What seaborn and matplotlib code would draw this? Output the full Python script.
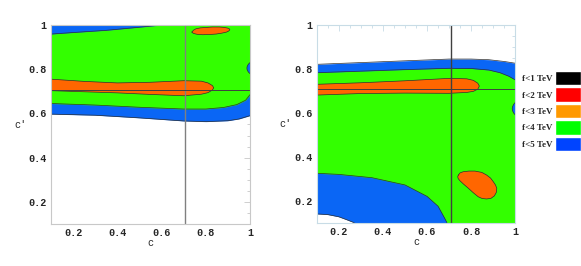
import numpy as np
import pandas as pd
import seaborn as sns
import matplotlib.pyplot as plt

# colours of the regions
WHITE = "#ffffff"
BLUE = "#0a66f5"
GREEN = "#33ff00"
ORANGE = "#ff6600"
EDGE = "#303030"

# ---- left panel boundaries (c, c') ----
L_blue_low_c = [0.1, 0.3, 0.5, 0.7, 0.8, 0.9, 0.95, 1.0]
L_blue_low_v = [0.597, 0.592, 0.580, 0.566, 0.563, 0.567, 0.575, 0.59]
L_green_low_c = [0.1, 0.3, 0.5, 0.7, 0.8, 0.88, 0.94, 0.98, 1.0]
L_green_low_v = [0.645, 0.638, 0.628, 0.620, 0.620, 0.627, 0.64, 0.66, 0.685]
L_blue_top_c = [0.1, 0.2, 0.35, 0.5, 0.6]
L_blue_top_v = [0.959, 0.966, 0.976, 0.99, 1.0]
L_band_c = [0.1, 0.25, 0.4, 0.55, 0.7, 0.78, 0.81, 0.83, 0.836,
            0.83, 0.81, 0.78, 0.7, 0.55, 0.4, 0.25, 0.1]
L_band_v = [0.755, 0.745, 0.738, 0.741, 0.748, 0.746, 0.738, 0.726, 0.716,
            0.706, 0.694, 0.687, 0.680, 0.686, 0.693, 0.698, 0.703]
L_isle_c = [0.737, 0.745, 0.756, 0.776, 0.801, 0.831, 0.861, 0.884, 0.899, 0.906, 0.909,
            0.904, 0.894, 0.872, 0.846, 0.815, 0.786, 0.760, 0.744, 0.737]
L_isle_v = [0.968, 0.977, 0.983, 0.987, 0.989, 0.991, 0.991, 0.989, 0.986, 0.983, 0.979,
            0.973, 0.968, 0.963, 0.959, 0.957, 0.956, 0.958, 0.962, 0.968]
L_dot_c = [1.0, 0.992, 0.987, 0.986, 0.987, 0.992, 1.0]
L_dot_v = [0.83, 0.822, 0.812, 0.805, 0.798, 0.788, 0.78]

# ---- right panel boundaries ----
R_blue_top_c = [0.1, 0.3, 0.5, 0.7, 0.8, 0.88, 0.95, 1.0]
R_blue_top_v = [0.821, 0.829, 0.837, 0.845, 0.845, 0.842, 0.834, 0.826]
R_green_top_c = [0.1, 0.3, 0.5, 0.7, 0.8, 0.88, 0.93, 0.97, 1.0]
R_green_top_v = [0.783, 0.790, 0.797, 0.803, 0.802, 0.795, 0.783, 0.767, 0.75]
R_corner_c = [0.1, 0.2, 0.35, 0.5, 0.6, 0.65, 0.68, 0.69]
R_corner_v = [0.325, 0.32, 0.305, 0.272, 0.22, 0.175, 0.12, 0.1]
R_white_c = [0.1, 0.15, 0.2, 0.24, 0.27]
R_white_v = [0.14, 0.137, 0.127, 0.112, 0.1]
R_band_c = [0.1, 0.3, 0.5, 0.7, 0.78, 0.81, 0.83, 0.837,
            0.83, 0.81, 0.78, 0.7, 0.5, 0.3, 0.1]
R_band_v = [0.730, 0.737, 0.746, 0.757, 0.755, 0.748, 0.735, 0.722,
            0.708, 0.698, 0.693, 0.689, 0.690, 0.688, 0.681]
R_isle_c = [0.742, 0.750, 0.764, 0.790, 0.817, 0.848, 0.870, 0.888, 0.900, 0.910, 0.916,
            0.914, 0.905, 0.890, 0.870, 0.850, 0.832, 0.810, 0.787, 0.765, 0.749, 0.741, 0.739, 0.742]
R_isle_v = [0.317, 0.327, 0.332, 0.335, 0.335, 0.329, 0.317, 0.303, 0.287, 0.272, 0.257,
            0.238, 0.222, 0.211, 0.208, 0.210, 0.218, 0.236, 0.257, 0.276, 0.291, 0.301, 0.31, 0.317]
R_dot_c = [1.0, 0.992, 0.987, 0.986, 0.987, 0.992, 1.0]
R_dot_v = [0.648, 0.638, 0.627, 0.619, 0.611, 0.6, 0.59]

# legend
leg_labels = ["f<1 TeV", "f<2 TeV", "f<3 TeV", "f<4 TeV", "f<5 TeV"]
leg_colors = ["#000000", "#ff0000", "#ff9900", "#00ff00", "#0044ff"]

ticks = [0.2, 0.4, 0.6, 0.8, 1.0]
tick_labels = ["0.2", "0.4", "0.6", "0.8", "1"]
cross = 1 / np.sqrt(2)

sns.set_style("white")
plt.rcParams['font.family'] = ['Liberation Mono', 'DejaVu Sans']
plt.rcParams['font.weight'] = 'bold'

fig = plt.figure(figsize=(5.81, 2.66), dpi=100)
axL = fig.add_axes([51 / 581, 42 / 266, 199 / 581, 199 / 266])
axR = fig.add_axes([316.7 / 581, 43.3 / 266, 198.6 / 581, 197.7 / 266])


def below(ax, c, v, color, base=0.1):
    ax.fill_between(c, base, v, color=color, lw=0)
    sns.lineplot(x=c, y=v, ax=ax, color=EDGE, lw=0.5, sort=False, estimator=None)


def above(ax, c, v, color):
    ax.fill_between(c, v, 1, color=color, lw=0)
    sns.lineplot(x=c, y=v, ax=ax, color=EDGE, lw=0.5, sort=False, estimator=None)


def blob(ax, c, v, color):
    ax.fill(c, v, color=color, lw=0)
    sns.lineplot(x=c, y=v, ax=ax, color=EDGE, lw=0.5, sort=False, estimator=None)


# left panel
above(axL, L_blue_low_c, L_blue_low_v, BLUE)
above(axL, L_green_low_c, L_green_low_v, GREEN)
above(axL, L_blue_top_c, L_blue_top_v, BLUE)
blob(axL, L_band_c, L_band_v, ORANGE)
blob(axL, L_isle_c, L_isle_v, ORANGE)
blob(axL, L_dot_c, L_dot_v, BLUE)

# right panel
below(axR, R_blue_top_c, R_blue_top_v, BLUE)
below(axR, R_green_top_c, R_green_top_v, GREEN)
below(axR, R_corner_c, R_corner_v, BLUE)
below(axR, R_white_c, R_white_v, WHITE)
blob(axR, R_band_c, R_band_v, ORANGE)
blob(axR, R_isle_c, R_isle_v, ORANGE)
blob(axR, R_dot_c, R_dot_v, BLUE)

for ax, frame, vcol in [(axL, "#c8c8c8", "#808080"), (axR, "#c8dce6", "#404040")]:
    ax.axvline(cross, color=vcol, lw=1.0)
    ax.axhline(cross, color="#404040", lw=0.7)
    ax.set_xlim(0.1, 1)
    ax.set_ylim(0.1, 1)
    ax.set_xticks(ticks)
    ax.set_xticklabels(tick_labels)
    ax.set_yticks(ticks)
    ax.set_yticklabels(tick_labels)
    ax.set_xticks(np.arange(0.1, 1.0, 0.05), minor=True)
    ax.set_yticks(np.arange(0.1, 1.0, 0.05), minor=True)
    ax.tick_params(which="both", direction="in", color=frame, top=True, right=True,
                   labelsize=7.3, pad=3, width=0.6)
    ax.tick_params(which="major", length=4)
    ax.tick_params(which="minor", length=2)
    for s in ax.spines.values():
        s.set_color(frame)
        s.set_linewidth(0.8)
    ax.set_xlabel("c", fontsize=7.3, labelpad=0)
    ax.set_ylabel("c′", fontsize=7.3, rotation=0, labelpad=6, va="center")

# legend as a small bar chart
lax = fig.add_axes([555 / 581, 114 / 266, 26 / 581, 82 / 266])
leg = pd.DataFrame({"label": leg_labels, "v": [1] * 5})
sns.barplot(data=leg, y="label", x="v", hue="label", palette=leg_colors,
            width=0.88, ax=lax, legend=False, orient="h", saturation=1)
lax.set_xlim(0, 1)
lax.set_xticks([])
lax.set_xlabel("")
lax.set_ylabel("")
lax.tick_params(axis="y", length=0, pad=2)
for t in lax.get_yticklabels():
    t.set_fontfamily(["Liberation Serif", "DejaVu Serif"])
    t.set_fontsize(6.5)
    t.set_fontweight("bold")
for s in lax.spines.values():
    s.set_visible(False)

fig.savefig("out.png", dpi=100)
